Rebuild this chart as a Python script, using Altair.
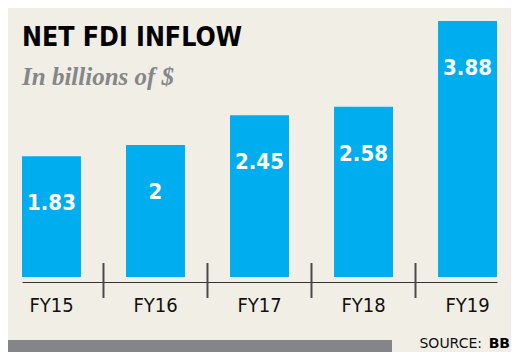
import altair as alt
import pandas as pd

years = ["FY15", "FY16", "FY17", "FY18", "FY19"]
values = [1.83, 2, 2.45, 2.58, 3.88]
value_labels = ["1.83", "2", "2.45", "2.58", "3.88"]
separators = ["FY15", "FY16", "FY17", "FY18"]
title_text = "NET FDI INFLOW"
subtitle_text = "In billions of $"
source_label = "SOURCE:"
source_name = "BB"

NARROW = "DejaVu Sans Condensed, sans-serif"

df = pd.DataFrame({"year": years, "value": values, "label": value_labels})
sep_df = pd.DataFrame({"year": separators})
one = pd.DataFrame({"title": [title_text], "subtitle": [subtitle_text],
                    "src": [source_label], "name": [source_name]})

x_scale = alt.Scale(domain=years, paddingInner=0.433, paddingOuter=0)
y_scale = alt.Scale(domain=[0, 3.88], nice=False, zero=True)

x_enc = alt.X("year:N", scale=x_scale, sort=years, title=None,
              axis=alt.Axis(labelAngle=0, labelFontSize=20, labelFont=NARROW,
                            labelColor="#111111", ticks=False, offset=5,
                            labelPadding=13, domainColor="#333333",
                            domainWidth=1.2, grid=False))
y_enc = alt.Y("value:Q", scale=y_scale, axis=None)

bars = alt.Chart(df).mark_bar(color="#00AEEF").encode(x=x_enc, y=y_enc)

vlabels = alt.Chart(df).mark_text(
    color="white", font=NARROW, fontSize=22, fontWeight="bold",
    baseline="alphabetic", dy=54
).encode(x=alt.X("year:N", sort=years), y="value:Q", text="label:N")

seps = alt.Chart(sep_df).mark_rule(color="#4a4a4a", strokeWidth=2, xOffset=22.5).encode(
    x=alt.X("year:N", sort=years, bandPosition=1),
    y=alt.value(242), y2=alt.value(277)
)

title = alt.Chart(one).mark_text(
    align="left", baseline="alphabetic", font=NARROW, fontSize=26.5,
    fontWeight="bold", color="#000000"
).encode(x=alt.value(0), y=alt.value(25), text="title:N")

subtitle = alt.Chart(one).mark_text(
    align="left", baseline="alphabetic", font="Liberation Serif, serif",
    fontSize=25, fontStyle="italic", fontWeight="bold", color="#85868a"
).encode(x=alt.value(0), y=alt.value(64), text="subtitle:N")

graybar = alt.Chart(one).mark_rect(color="#848589").encode(
    x=alt.value(-14), x2=alt.value(370), y=alt.value(319), y2=alt.value(331)
)

src = alt.Chart(one).mark_text(
    align="right", baseline="alphabetic", font="DejaVu Sans", fontSize=14,
    color="#111111"
).encode(x=alt.value(460), y=alt.value(327), text="src:N")

srcname = alt.Chart(one).mark_text(
    align="right", baseline="alphabetic", font="DejaVu Sans", fontSize=14,
    fontWeight="bold", color="#000000"
).encode(x=alt.value(488), y=alt.value(327), text="name:N")

chart = alt.layer(bars, vlabels, seps, title, subtitle, graybar, src, srcname).properties(
    width=475, height=256,
    padding={"left": 14, "top": 13, "right": 14, "bottom": 75},
    autosize=alt.AutoSizeParams(type="none"),
    background="#F1EEE6",
).configure_view(stroke=None)

chart.save("out.html", embed_options={"renderer": "svg", "actions": False})
